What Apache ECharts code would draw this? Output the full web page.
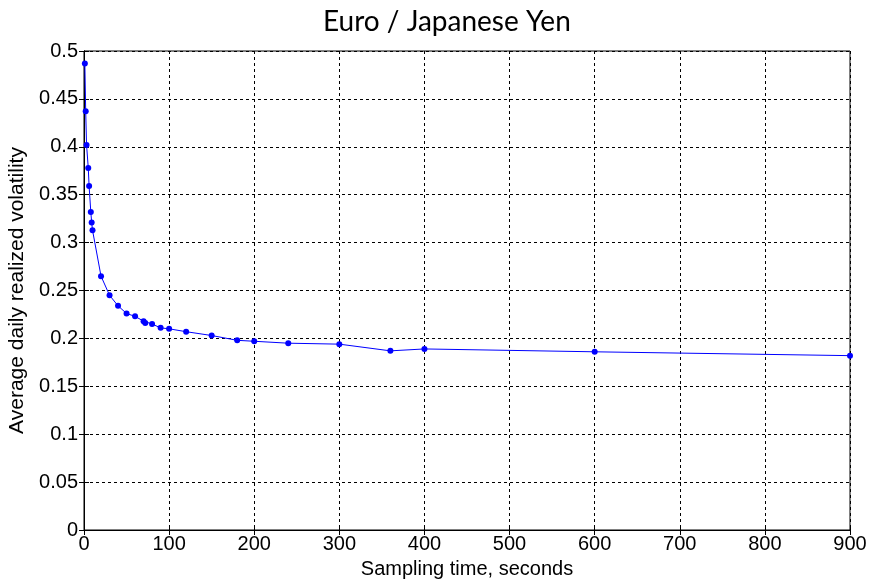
<!DOCTYPE html>
<html>
<head>
<meta charset="utf-8">
<script src="https://cdn.jsdelivr.net/npm/echarts@6/dist/echarts.min.js"></script>
<style>html,body{margin:0;padding:0;background:#fff}#c{width:871px;height:583px}</style>
</head>
<body>
<div id="c"></div>
<script>
var titleText = "Euro / Japanese Yen";
var xName = "Sampling time, seconds";
var yName = "Average daily realized volatility";
var samplingTimes = [1, 2, 3, 5, 6, 8, 9, 10, 20, 30, 40, 50, 60, 70, 72, 80, 90, 100, 120, 150, 180, 200, 240, 300, 360, 400, 600, 900];
var volatility = [0.487, 0.437, 0.402, 0.378, 0.359, 0.332, 0.321, 0.313, 0.265, 0.245, 0.234, 0.226, 0.223, 0.218, 0.216, 0.215, 0.211, 0.210, 0.207, 0.203, 0.198, 0.197, 0.195, 0.194, 0.187, 0.189, 0.186, 0.182];

var points = samplingTimes.map(function (t, i) { return [t, volatility[i]]; });
var gridLine = { show: true, lineStyle: { color: '#000', type: [3, 3], width: 1 } };
var chart = echarts.init(document.getElementById('c'), null, { renderer: 'canvas' });
chart.setOption({
  animation: false,
  backgroundColor: '#fff',
  title: {
    text: titleText, left: 318, top: 3,
    textStyle: { fontFamily: 'Lato', fontWeight: 'normal', fontSize: 28, color: '#000' }
  },
  grid: { left: 84, right: 21, top: 51, bottom: 53, show: true, borderColor: '#000', borderWidth: 1, containLabel: false, outerBoundsMode: 'none' },
  xAxis: [{
    type: 'value', min: 0, max: 900, interval: 100,
    name: xName, nameLocation: 'middle', nameGap: 29,
    nameTextStyle: { fontFamily: 'Liberation Sans', fontSize: 20, color: '#000' },
    axisLine: { show: true, onZero: false, lineStyle: { color: '#000' } },
    axisTick: { show: true, inside: true, length: 5, lineStyle: { color: '#000' } },
    axisLabel: { fontFamily: 'Liberation Sans', fontSize: 20, color: '#000', margin: 4 },
    splitLine: gridLine
  }, {
    type: 'value', min: 0, max: 900, interval: 100, position: 'top',
    axisLine: { show: true, lineStyle: { color: '#000' } },
    axisTick: { show: true, inside: true, length: 5, lineStyle: { color: '#000' } },
    axisLabel: { show: false }, splitLine: { show: false }
  }],
  yAxis: [{
    type: 'value', min: 0, max: 0.5, interval: 0.05,
    name: yName, nameLocation: 'middle', nameGap: 53,
    nameTextStyle: { fontFamily: 'Liberation Sans', fontSize: 21, color: '#000' },
    axisLine: { show: true, onZero: false, lineStyle: { color: '#000' } },
    axisTick: { show: true, inside: true, length: 5, lineStyle: { color: '#000' } },
    axisLabel: { fontFamily: 'Liberation Sans', fontSize: 20, color: '#000', margin: 6 },
    splitLine: gridLine
  }, {
    type: 'value', min: 0, max: 0.5, interval: 0.05, position: 'right',
    axisLine: { show: true, lineStyle: { color: '#000' } },
    axisTick: { show: true, inside: true, length: 5, lineStyle: { color: '#000' } },
    axisLabel: { show: false }, splitLine: { show: false }
  }],
  series: [{
    type: 'line', data: points, xAxisIndex: 0, yAxisIndex: 0,
    symbol: 'circle', symbolSize: 6,
    lineStyle: { color: '#0000ff', width: 1 },
    itemStyle: { color: '#0000ff' }
  }]
});
</script>
</body>
</html>
